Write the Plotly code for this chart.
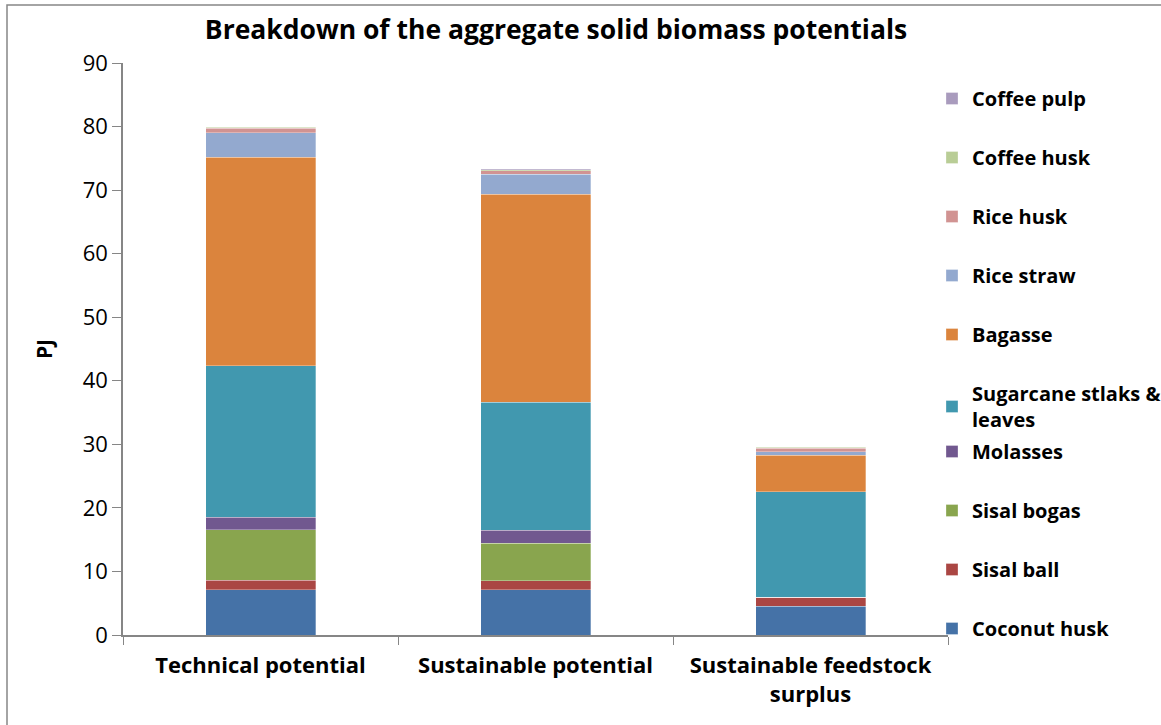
import plotly.graph_objects as go

categories = ["Technical potential", "Sustainable potential", "Sustainable feedstock<br>surplus"]

series_names = ["Coconut husk", "Sisal ball", "Sisal bogas", "Molasses",
                "Sugarcane stlaks &<br>leaves", "Bagasse", "Rice straw", "Rice husk",
                "Coffee husk", "Coffee pulp"]
coconut_husk = [7.1, 7.1, 4.5]
sisal_ball = [1.55, 1.45, 1.45]
sisal_bogas = [7.9, 5.9, 0.0]
molasses = [2.0, 2.0, 0.0]
sugarcane = [23.8, 20.2, 16.6]
bagasse = [32.8, 32.7, 5.7]
rice_straw = [3.9, 3.15, 0.57]
rice_husk = [0.65, 0.57, 0.58]
coffee_husk = [0.2, 0.17, 0.12]
coffee_pulp = [0.1, 0.1, 0.08]

values = [coconut_husk, sisal_ball, sisal_bogas, molasses, sugarcane, bagasse,
          rice_straw, rice_husk, coffee_husk, coffee_pulp]
colors = ["#4572A7", "#AA4643", "#89A54E", "#71588F", "#4198AF", "#DB843D",
          "#93A9CF", "#D19392", "#B9CD96", "#A99BBD"]

FONT = "Open Sans"

fig = go.Figure()
for i, (name, vals, col) in enumerate(zip(series_names, values, colors)):
    fig.add_trace(go.Bar(
        x=categories, y=vals, name=name,
        marker=dict(color=col, line=dict(color="rgba(255,255,255,0.6)", width=0.5)),
        width=0.4,
        legend="legend" if i >= 4 else "legend2",
        legendgroup=name,
        legendrank=100 - i,
    ))

L, R, T, B = 123, 213, 63, 90
W, H = 1161, 725
pw, ph = W - L - R, H - T - B

def px2paper_x(px):
    return (px - L) / pw

def px2paper_y(py):
    return (H - B - py) / ph

legend_font = dict(family=FONT, size=20, color="#000000", weight="bold")

fig.update_layout(
    width=W, height=H,
    margin=dict(l=L, r=R, t=T, b=B, autoexpand=False),
    paper_bgcolor="white", plot_bgcolor="white",
    barmode="stack",
    title=dict(text="<b>Breakdown of the aggregate solid biomass potentials</b>",
               x=px2paper_x(556), xref="paper", xanchor="center",
               y=1 - 30 / H, yanchor="middle",
               font=dict(family=FONT, size=26.5, color="#000000")),
    font=dict(family=FONT, color="#000000"),
    xaxis=dict(
        showline=True, linecolor="#868686", linewidth=1.5,
        ticks="outside", tickson="boundaries", ticklen=8, tickcolor="#868686",
        tickfont=dict(family=FONT, size=22, color="#000000", weight="bold"),
        ticklabelstandoff=10,
        showgrid=False,
    ),
    yaxis=dict(
        range=[0, 90], dtick=10,
        showline=True, linecolor="#868686", linewidth=1.5,
        ticks="outside", ticklen=9, tickcolor="#868686",
        tickfont=dict(family=FONT, size=22, color="#000000"),
        showgrid=False, zeroline=False,
        title=dict(text="<b>PJ</b>", font=dict(family=FONT, size=21, color="#000000"),
                   standoff=24),
    ),
    legend=dict(
        x=px2paper_x(932), xanchor="left",
        y=px2paper_y(79), yanchor="top",
        traceorder="grouped", tracegroupgap=30,
        font=legend_font, bgcolor="rgba(0,0,0,0)", itemclick=False,
    ),
    legend2=dict(
        x=px2paper_x(932), xanchor="left",
        y=px2paper_y(432), yanchor="top",
        traceorder="grouped", tracegroupgap=30,
        font=legend_font, bgcolor="rgba(0,0,0,0)", itemclick=False,
    ),
    shapes=[dict(type="rect", xref="paper", yref="paper",
                 x0=px2paper_x(7), x1=px2paper_x(1170),
                 y0=px2paper_y(740), y1=px2paper_y(5),
                 line=dict(color="#868686", width=1.5), fillcolor="rgba(0,0,0,0)",
                 layer="below")],
)

fig.write_html("out.html", config={"displayModeBar": False},
               post_script="document.body.style.margin='0px';document.body.style.overflow='hidden';")
